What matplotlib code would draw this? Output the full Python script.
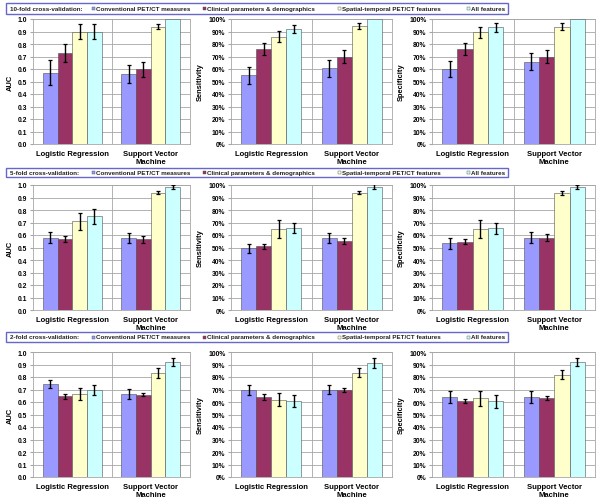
import numpy as np
import matplotlib
matplotlib.use("Agg")
from matplotlib import pyplot as plt
from matplotlib.patches import Rectangle

plt.rcParams['font.family'] = ['Liberation Sans', 'DejaVu Sans']
plt.rcParams['font.weight'] = 'bold'

# categories and series
classifiers = ["Logistic Regression", "Support Vector\nMachine"]
feature_sets = ["Conventional PET/CT measures", "Clinical parameters & demographics",
                "Spatial-temporal PET/CT features", "All features"]
folds = ["10-fold cross-validation:", "5-fold cross-validation:", "2-fold cross-validation:"]
metrics = ["AUC", "Sensitivity", "Specificity"]

# values per fold: rows = classifier, cols = feature set
auc_10 = [[0.57, 0.73, 0.90, 0.90], [0.56, 0.60, 0.94, 1.00]]
auc_10_err = [[0.10, 0.07, 0.06, 0.06], [0.075, 0.06, 0.02, 0.0]]
sens_10 = [[55, 76, 86, 92], [60.5, 70, 94.5, 100]]
sens_10_err = [[7, 5, 4.5, 3.5], [6.5, 5, 2.5, 0]]
spec_10 = [[60, 76, 89.5, 93.5], [66, 70, 94, 100]]
spec_10_err = [[6.5, 5, 4.5, 3.5], [6.5, 5, 2.5, 0]]

auc_5 = [[0.58, 0.57, 0.71, 0.75], [0.58, 0.565, 0.94, 0.985]]
auc_5_err = [[0.045, 0.025, 0.07, 0.06], [0.04, 0.025, 0.01, 0.015]]
sens_5 = [[49.5, 51, 65, 66], [58, 55, 94, 98.5]]
sens_5_err = [[3.5, 2, 7, 4], [4, 2.5, 1.5, 2]]
spec_5 = [[53.5, 54.5, 65, 65.5], [58, 58, 93.5, 98.5]]
spec_5_err = [[4.5, 2, 7, 4.5], [4.5, 2.5, 1.5, 1.5]]

auc_2 = [[0.745, 0.645, 0.665, 0.695], [0.665, 0.66, 0.83, 0.92]]
auc_2_err = [[0.035, 0.02, 0.045, 0.04], [0.04, 0.015, 0.04, 0.035]]
sens_2 = [[70, 64, 62, 61], [70, 69.5, 83.5, 91]]
sens_2_err = [[4, 2.5, 5.5, 5], [3.5, 1.5, 3.5, 4]]
spec_2 = [[64, 61, 63, 60.5], [64, 63, 82, 92]]
spec_2_err = [[5, 1.5, 6, 5], [4.5, 1.5, 3.5, 3]]

colors = ['#9999FF', '#993366', '#FFFFCC', '#CCFFFF']
grid_col = '#A6A6A6'
box_col = '#6666CC'

W, H = 600, 502
fig = plt.figure(figsize=(6.0, 5.02), dpi=100)


def px(x, y):
    # pixel coords (top-left origin) -> figure fraction
    return x / W, 1 - y / H


def draw_panel(ax, vals, errs, metric):
    pct = metric != "AUC"
    top = 100 if pct else 1.0
    n = len(feature_sets)
    width = 0.1875
    centers = np.arange(len(classifiers)) + 0.5
    for i in range(n):
        offs = (i - (n - 1) / 2) * width
        v = [vals[c][i] for c in range(len(classifiers))]
        e = [errs[c][i] for c in range(len(classifiers))]
        ax.bar(centers + offs, v, width, color=colors[i], edgecolor='#505050',
               linewidth=0.4, zorder=3)
        e_show = [x if x > 0 else np.nan for x in e]
        ax.errorbar(centers + offs, v, yerr=e_show, fmt='none', ecolor='black',
                    elinewidth=1.0, capsize=1.6, capthick=0.9, zorder=4)
    ax.set_xlim(0, len(classifiers))
    ax.set_ylim(0, top)
    ax.set_yticks(np.linspace(0, top, 11))
    if pct:
        ax.set_yticklabels(["%d%%" % t for t in np.linspace(0, 100, 11)])
    else:
        ax.set_yticklabels(["%.1f" % t for t in np.linspace(0, 1, 11)])
    ax.set_xticks(centers)
    ax.set_xticklabels(classifiers, fontsize=5.5, fontweight='bold', linespacing=1.35)
    ax.tick_params(axis='y', labelsize=4.9, length=2, color=grid_col, pad=2)
    ax.tick_params(axis='x', length=0, pad=4)
    ax.yaxis.grid(True, color=grid_col, linewidth=0.6, zorder=0)
    ax.axvline(1, color=grid_col, linewidth=0.6, zorder=1)
    for s in ax.spines.values():
        s.set_color(grid_col)
        s.set_linewidth(0.6)
    ax.set_ylabel(metric, fontsize=5.4, fontweight='bold', labelpad=3)


all_vals = [[auc_10, sens_10, spec_10], [auc_5, sens_5, spec_5], [auc_2, sens_2, spec_2]]
all_errs = [[auc_10_err, sens_10_err, spec_10_err], [auc_5_err, sens_5_err, spec_5_err],
            [auc_2_err, sens_2_err, spec_2_err]]

col_x = [(33, 190), (231, 392), (432, 595)]
row_y = [(20, 145), (186, 311), (353, 478)]
box_y = [(4, 15), (169, 178), (333, 343)]
marker_x = [92, 203, 338, 467]

for r in range(3):
    y0, y1 = row_y[r]
    for c in range(3):
        x0, x1 = col_x[c]
        l, b = px(x0, y1)
        ax = fig.add_axes([l, b, (x1 - x0) / W, (y1 - y0) / H])
        draw_panel(ax, all_vals[r][c], all_errs[r][c], metrics[c])

    # header box acting as legend
    by0, by1 = box_y[r]
    bl, bb = px(6, by1)
    fig.patches.append(Rectangle((bl, bb), (508 - 6) / W, (by1 - by0) / H,
                                 transform=fig.transFigure, fill=False,
                                 edgecolor=box_col, linewidth=1.0))
    ymid = 1 - (by0 + by1) / 2 / H
    fig.text(10 / W, ymid, folds[r], fontsize=4.5, fontweight='bold',
             va='center', ha='left', color='#222222')
    for i, name in enumerate(feature_sets):
        mx = marker_x[i]
        ml, mb = px(mx, (by0 + by1) / 2 + 1.5)
        fig.patches.append(Rectangle((ml, mb), 3 / W, 3 / H, transform=fig.transFigure,
                                     facecolor=colors[i], edgecolor='#505050',
                                     linewidth=0.3))
        fig.text((mx + 4) / W, ymid, name, fontsize=4.5, fontweight='bold',
                 va='center', ha='left', color='#222222')

fig.savefig("out.png", dpi=100, facecolor='white')
